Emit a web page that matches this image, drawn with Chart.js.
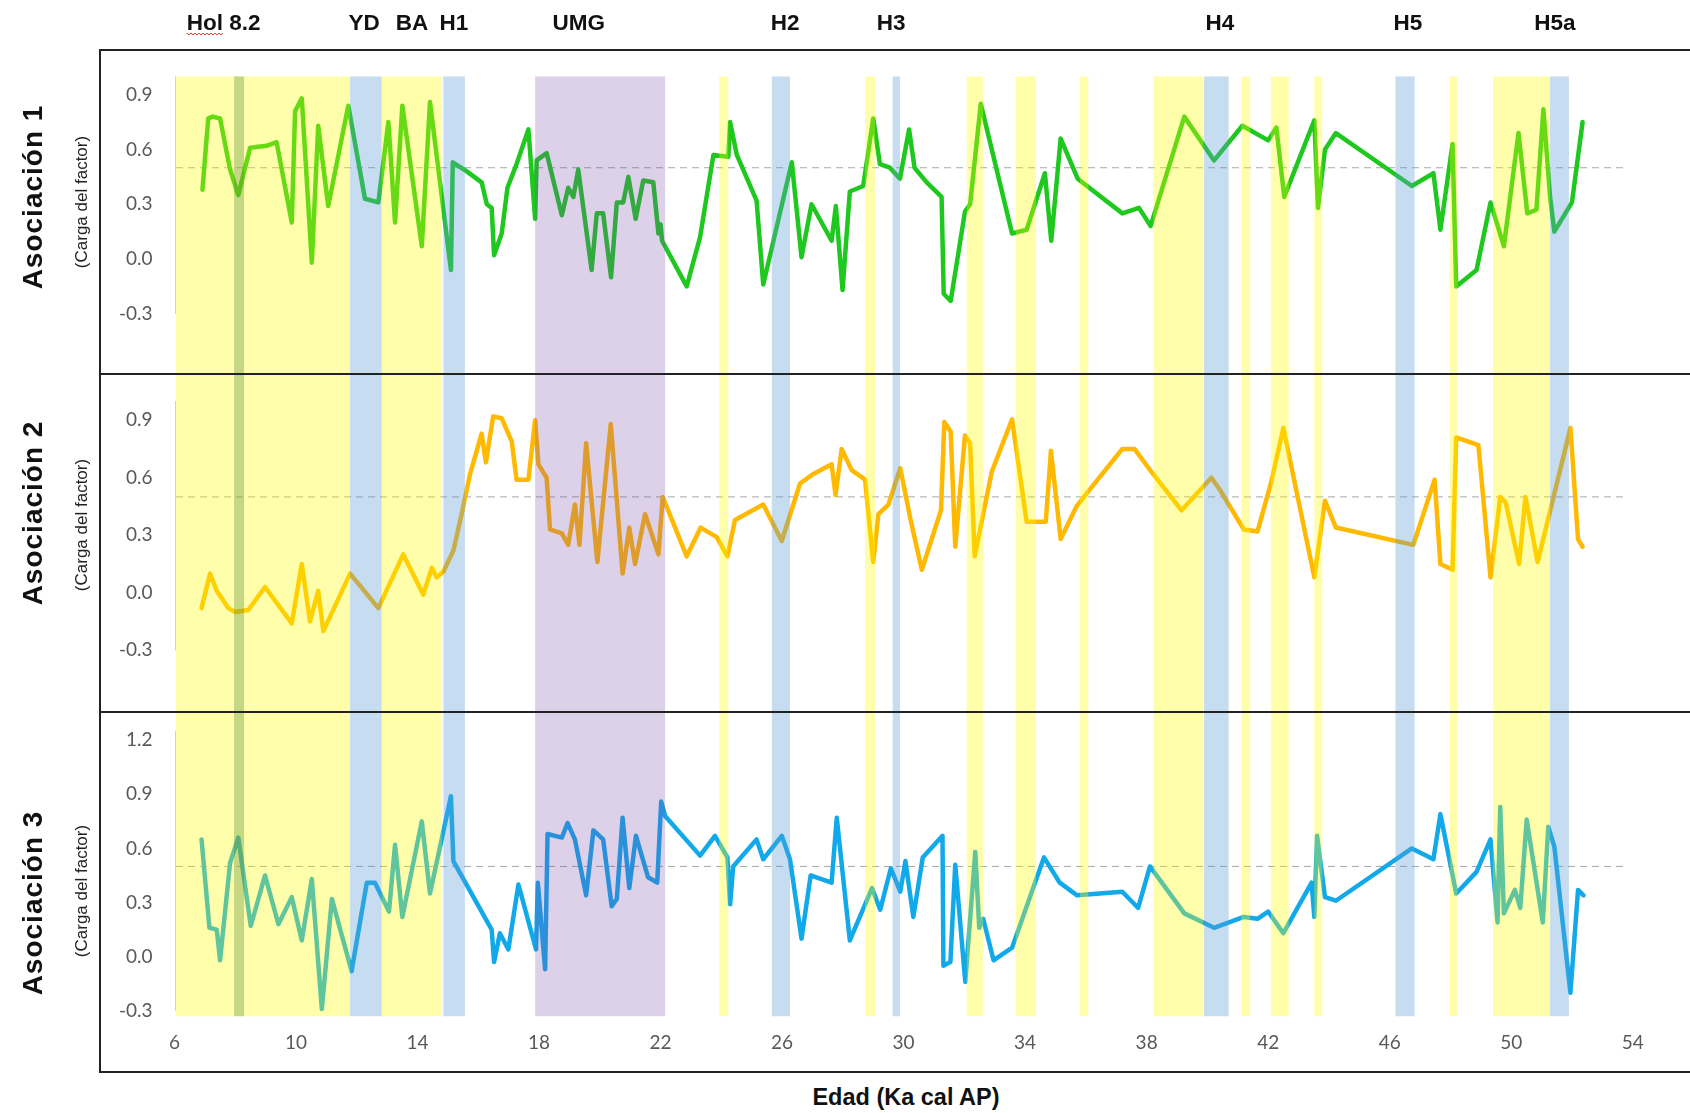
<!DOCTYPE html>
<html lang="es">
<head>
<meta charset="utf-8">
<title>Asociaciones - carga del factor</title>
<script src="https://cdn.jsdelivr.net/npm/chart.js@4.4.1/dist/chart.umd.min.js"></script>
<style>
    html, body { margin: 0; padding: 0; background: #fff; }
    body { position: relative; width: 1690px; height: 1113px; overflow: hidden; font-family: "Liberation Sans", Arial, sans-serif; }
    canvas { position: absolute; left: 0; }
    #chartA1 { top: 0; }
    #chartA2 { top: 374px; }
    #chartA3 { top: 712px; }
    .hline, .vline { position: absolute; background: #222; pointer-events: none; }
    .hline { left: 99px; width: 1600px; height: 2px; }
    .vline { left: 99px; top: 49px; width: 2px; height: 1024px; }
    .rot { position: absolute; white-space: nowrap; transform: translate(-50%, -50%) rotate(-90deg); color: #111; }
    .panel-title { font-weight: bold; font-size: 28px; letter-spacing: 1px; }
    .panel-sub { font-size: 17px; color: #222; }
    #xTitle { position: absolute; left: 906px; top: 1097px; transform: translate(-50%, -50%); font-weight: bold; font-size: 23.5px; color: #111; white-space: nowrap; }
</style>
</head>
<body>
<canvas id="chartA1" width="1690" height="374"></canvas>
<canvas id="chartA2" width="1690" height="338"></canvas>
<canvas id="chartA3" width="1690" height="360"></canvas>

<div class="vline"></div>
<div class="hline" style="top:49px"></div>
<div class="hline" style="top:373px"></div>
<div class="hline" style="top:711px"></div>
<div class="hline" style="top:1071px"></div>

<div class="rot panel-title" style="left:33px; top:197px">Asociación 1</div>
<div class="rot panel-sub" style="left:82px; top:202px">(Carga del factor)</div>
<div class="rot panel-title" style="left:33px; top:513px">Asociación 2</div>
<div class="rot panel-sub" style="left:82px; top:525px">(Carga del factor)</div>
<div class="rot panel-title" style="left:33px; top:903px">Asociación 3</div>
<div class="rot panel-sub" style="left:82px; top:891px">(Carga del factor)</div>
<div id="xTitle">Edad (Ka cal AP)</div>

<script>
// --- Data (age in ka cal BP, factor loading) ---
const ageA1 = [6.92, 7.11, 7.26, 7.50, 7.83, 8.10, 8.49, 9.03, 9.36, 9.86, 9.97, 10.19, 10.52, 10.73, 11.06, 11.72, 12.27, 12.71, 13.04, 13.26,
    13.50, 14.14, 14.41, 15.10, 15.16, 15.62, 16.11, 16.28, 16.44, 16.52, 16.77, 16.96, 17.26, 17.65, 17.87, 17.92, 18.25, 18.75, 18.96, 19.13,
    19.29, 19.73, 19.90, 20.11, 20.37, 20.56, 20.77, 20.94, 21.18, 21.43, 21.76, 21.93, 22.00, 22.05, 22.86, 23.30, 23.74, 24.23, 24.29, 24.51,
    25.16, 25.38, 26.32, 26.64, 26.97, 27.63, 27.77, 27.99, 28.23, 28.67, 29.00, 29.22, 29.55, 29.88, 30.18, 30.36, 30.76, 31.25, 31.32, 31.55,
    32.02, 32.19, 32.54, 33.57, 34.05, 34.65, 34.86, 35.17, 35.73, 37.20, 37.75, 38.13, 39.24, 40.22, 41.15, 42.00, 42.27, 42.53, 43.52, 43.64,
    43.87, 44.23, 46.73, 47.44, 47.67, 48.07, 48.19, 48.86, 49.32, 49.76, 50.24, 50.53, 50.83, 51.06, 51.28, 51.42, 52.00, 52.35];
const loadA1 = [0.38, 0.77, 0.78, 0.77, 0.49, 0.35, 0.61, 0.62, 0.64, 0.20, 0.81, 0.88, -0.02, 0.73, 0.29, 0.84, 0.33, 0.31, 0.75, 0.20,
    0.84, 0.07, 0.86, -0.06, 0.53, 0.48, 0.42, 0.30, 0.28, 0.02, 0.14, 0.39, 0.52, 0.71, 0.22, 0.54, 0.58, 0.24, 0.39, 0.34,
    0.49, -0.06, 0.25, 0.25, -0.10, 0.31, 0.31, 0.45, 0.22, 0.43, 0.42, 0.14, 0.19, 0.10, -0.15, 0.12, 0.57, 0.56, 0.75, 0.57,
    0.32, -0.14, 0.53, 0.01, 0.30, 0.10, 0.29, -0.17, 0.37, 0.40, 0.77, 0.52, 0.50, 0.44, 0.71, 0.50, 0.42, 0.34, -0.19, -0.23,
    0.26, 0.30, 0.85, 0.14, 0.16, 0.47, 0.10, 0.66, 0.44, 0.25, 0.28, 0.18, 0.78, 0.54, 0.73, 0.65, 0.72, 0.34, 0.76, 0.28,
    0.60, 0.69, 0.40, 0.47, 0.16, 0.63, -0.15, -0.06, 0.31, 0.07, 0.69, 0.25, 0.27, 0.82, 0.34, 0.15, 0.31, 0.75];

const ageA2 = [6.89, 7.17, 7.39, 7.77, 7.99, 8.43, 8.98, 9.86, 10.19, 10.46, 10.73, 10.90, 11.78, 12.71, 13.09, 13.53, 14.19, 14.47, 14.63, 14.85,
    15.18, 15.45, 15.73, 16.11, 16.25, 16.49, 16.77, 17.10, 17.26, 17.65, 17.87, 17.98, 18.25, 18.36, 18.75, 18.96, 19.18, 19.33, 19.55, 19.92,
    20.36, 20.75, 20.97, 21.16, 21.49, 21.93, 22.07, 22.86, 23.32, 23.85, 24.20, 24.45, 25.38, 25.99, 26.59, 27.03, 27.63, 27.76, 27.96, 28.29,
    28.73, 29.00, 29.17, 29.50, 29.89, 30.23, 30.60, 31.23, 31.34, 31.55, 31.70, 32.02, 32.19, 32.34, 32.90, 33.57, 34.05, 34.68, 34.85, 35.17,
    35.69, 36.29, 37.20, 37.60, 38.16, 39.15, 40.13, 40.40, 41.20, 41.65, 42.09, 42.50, 43.52, 43.87, 44.23, 46.78, 47.48, 47.67, 48.07, 48.19,
    48.92, 49.32, 49.64, 49.82, 50.26, 50.47, 50.87, 51.95, 52.20, 52.35];
const loadA2 = [-0.08, 0.10, 0.01, -0.08, -0.10, -0.09, 0.03, -0.16, 0.15, -0.15, 0.01, -0.20, 0.10, -0.08, 0.05, 0.20, -0.01, 0.13, 0.08, 0.11,
    0.22, 0.41, 0.62, 0.83, 0.68, 0.92, 0.91, 0.79, 0.59, 0.59, 0.90, 0.67, 0.60, 0.33, 0.31, 0.25, 0.46, 0.25, 0.78, 0.16,
    0.88, 0.10, 0.34, 0.15, 0.41, 0.20, 0.50, 0.19, 0.34, 0.29, 0.19, 0.38, 0.46, 0.27, 0.57, 0.62, 0.67, 0.51, 0.75, 0.64,
    0.59, 0.16, 0.41, 0.46, 0.65, 0.38, 0.12, 0.43, 0.89, 0.84, 0.24, 0.82, 0.78, 0.19, 0.63, 0.905, 0.37, 0.37, 0.74, 0.28,
    0.45, 0.57, 0.75, 0.75, 0.63, 0.43, 0.60, 0.54, 0.33, 0.32, 0.57, 0.86, 0.08, 0.48, 0.34, 0.25, 0.59, 0.15, 0.12, 0.81,
    0.77, 0.08, 0.50, 0.47, 0.15, 0.50, 0.16, 0.86, 0.28, 0.24];

const ageA3 = [6.89, 7.15, 7.39, 7.50, 7.83, 8.10, 8.51, 8.98, 9.42, 9.86, 10.19, 10.52, 10.85, 11.18, 11.83, 12.33, 12.60, 13.06, 13.26, 13.50,
    14.14, 14.41, 15.10, 15.18, 16.44, 16.52, 16.71, 16.99, 17.32, 17.90, 17.96, 18.20, 18.28, 18.75, 18.94, 19.18, 19.55, 19.79, 20.11, 20.39,
    20.56, 20.75, 20.97, 21.19, 21.59, 21.89, 22.02, 22.15, 23.30, 23.79, 24.20, 24.29, 24.39, 25.16, 25.38, 25.99, 26.26, 26.64, 26.94, 27.63,
    27.80, 28.23, 28.96, 29.23, 29.58, 29.89, 30.06, 30.32, 30.63, 31.28, 31.31, 31.54, 31.70, 32.03, 32.36, 32.49, 32.62, 32.96, 33.57, 34.62,
    35.14, 35.71, 37.20, 37.72, 38.11, 39.24, 40.22, 41.20, 41.65, 42.00, 42.50, 43.43, 43.52, 43.61, 43.87, 44.23, 46.73, 47.44, 47.67, 48.19,
    48.86, 49.32, 49.55, 49.64, 49.76, 50.12, 50.30, 50.51, 51.04, 51.22, 51.42, 51.95, 52.20, 52.38];
const loadA3 = [0.65, 0.16, 0.15, -0.02, 0.52, 0.66, 0.17, 0.45, 0.18, 0.33, 0.09, 0.43, -0.29, 0.32, -0.08, 0.41, 0.41, 0.25, 0.62, 0.22,
    0.75, 0.35, 0.89, 0.53, 0.15, -0.03, 0.13, 0.04, 0.40, 0.04, 0.41, -0.07, 0.68, 0.66, 0.74, 0.65, 0.34, 0.70, 0.65, 0.28,
    0.32, 0.77, 0.38, 0.67, 0.44, 0.41, 0.86, 0.78, 0.56, 0.67, 0.55, 0.29, 0.50, 0.65, 0.54, 0.67, 0.54, 0.10, 0.45, 0.41,
    0.77, 0.09, 0.38, 0.26, 0.49, 0.36, 0.53, 0.22, 0.55, 0.67, -0.05, -0.03, 0.51, -0.14, 0.58, 0.16, 0.21, -0.02, 0.05, 0.55,
    0.41, 0.34, 0.36, 0.27, 0.50, 0.24, 0.16, 0.22, 0.21, 0.25, 0.13, 0.41, 0.22, 0.67, 0.33, 0.31, 0.60, 0.54, 0.79, 0.35,
    0.47, 0.65, 0.19, 0.83, 0.24, 0.37, 0.27, 0.76, 0.19, 0.72, 0.61, -0.20, 0.37, 0.34];

// threshold line drawn dashed in every panel
const refLoad = 0.5;
const refAges = [6.05, 53.8];

// axis ticks
const xTicks = [6, 10, 14, 18, 22, 26, 30, 34, 38, 42, 46, 50, 54];
const yTicksA12 = [-0.3, 0.0, 0.3, 0.6, 0.9];
const yTicksA3 = [-0.3, 0.0, 0.3, 0.6, 0.9, 1.2];

// climatic intervals (ka): warm = interstadial, cold = Heinrich / YD, lgm = UMG, event = 8.2
const bandStart = [6.05, 7.96, 11.78, 12.82, 14.85, 17.87, 23.93, 25.66, 28.73, 29.64, 32.08, 33.69, 35.81, 38.22, 39.89, 41.11, 42.09, 43.52, 46.19, 47.98, 49.40, 51.28];
const bandEnd   = [11.78, 8.29, 12.82, 14.80, 15.56, 22.15, 24.23, 26.26, 29.06, 29.88, 32.62, 34.36, 36.08, 39.86, 40.70, 41.41, 42.68, 43.78, 46.82, 48.24, 51.28, 51.90];
const bandKind  = ['warm', 'event', 'cold', 'warm', 'cold', 'lgm', 'warm', 'cold', 'warm', 'cold', 'warm', 'warm', 'warm', 'warm', 'cold', 'warm', 'warm', 'warm', 'cold', 'warm', 'warm', 'cold'];

// event labels along the top
const eventNames = ['Hol 8.2', 'YD', 'BA', 'H1', 'UMG', 'H2', 'H3', 'H4', 'H5', 'H5a'];
const eventAges = [7.62, 12.24, 13.82, 15.2, 19.31, 26.1, 29.59, 40.41, 46.6, 51.44];

document.addEventListener('DOMContentLoaded', () => {
    const bandColors = {
        warm: 'rgba(255, 255, 0, 0.33)',
        cold: 'rgba(91, 155, 213, 0.35)',
        lgm: 'rgba(120, 70, 170, 0.25)',
        event: 'rgba(80, 135, 45, 0.33)'
    };
    const tickFont = { family: 'Lato, "Liberation Sans", sans-serif', size: 19 };

    // --- shaded intervals, painted over the curves like in the original ---
    const bandsPlugin = {
        id: 'bands',
        afterDatasetsDraw(chart, args, opts) {
            const { ctx, chartArea, scales: { x, y } } = chart;
            const top = opts.top == null ? chartArea.top : y.getPixelForValue(opts.top);
            const bottom = opts.bottom == null ? chartArea.bottom : y.getPixelForValue(opts.bottom);
            ctx.save();
            ctx.beginPath();
            ctx.rect(chartArea.left, chartArea.top, chartArea.width, chartArea.height);
            ctx.clip();
            bandStart.forEach((start, i) => {
                const x0 = x.getPixelForValue(start);
                const x1 = x.getPixelForValue(bandEnd[i]);
                ctx.fillStyle = bandColors[bandKind[i]];
                ctx.fillRect(x0, top, x1 - x0, bottom - top);
            });
            ctx.restore();
        }
    };

    // --- faint vertical axis line at the left of each panel ---
    const axisLinePlugin = {
        id: 'axisLine',
        beforeDatasetsDraw(chart, args, opts) {
            const { ctx, scales: { x, y } } = chart;
            const px = Math.round(x.getPixelForValue(x.min)) + 0.5;
            ctx.save();
            ctx.strokeStyle = '#d0d0d0';
            ctx.lineWidth = 1;
            ctx.beginPath();
            ctx.moveTo(px, y.getPixelForValue(opts.from));
            ctx.lineTo(px, y.getPixelForValue(opts.to));
            ctx.stroke();
            ctx.restore();
        }
    };

    // --- event names above the first panel ---
    const eventLabelPlugin = {
        id: 'eventLabels',
        afterDraw(chart) {
            const { ctx, scales: { x } } = chart;
            ctx.save();
            ctx.font = 'bold 22.5px "Liberation Sans", Arial, sans-serif';
            ctx.fillStyle = '#111';
            ctx.textAlign = 'center';
            ctx.textBaseline = 'alphabetic';
            eventNames.forEach((name, i) => {
                const cx = x.getPixelForValue(eventAges[i]);
                ctx.fillText(name, cx, 30);
                if (name.startsWith('Hol')) {
                    // red spell-check squiggle under "Hol"
                    const left = cx - ctx.measureText(name).width / 2;
                    const w = ctx.measureText('Hol').width;
                    ctx.strokeStyle = '#e02424';
                    ctx.lineWidth = 1;
                    ctx.beginPath();
                    for (let k = 0; k <= w; k += 2) {
                        const yy = (k / 2) % 2 === 0 ? 33 : 35;
                        if (k === 0) ctx.moveTo(left + k, yy); else ctx.lineTo(left + k, yy);
                    }
                    ctx.stroke();
                }
            });
            ctx.restore();
        }
    };

    function makePanel(canvasId, ages, loads, color, yRange, yTicks, cfg) {
        const canvas = document.getElementById(canvasId);
        const points = ages.map((a, i) => ({ x: a, y: loads[i] }));
        const refPoints = refAges.map(a => ({ x: a, y: refLoad }));

        return new Chart(canvas.getContext('2d'), {
            type: 'line',
            data: {
                datasets: [{
                    data: points,
                    borderColor: color,
                    borderWidth: 4.5,
                    borderJoinStyle: 'round',
                    borderCapStyle: 'round',
                    pointRadius: 0,
                    tension: 0,
                    order: 0
                }, {
                    data: refPoints,
                    borderColor: '#a6a6a6',
                    borderWidth: 1,
                    borderDash: [7, 5],
                    pointRadius: 0,
                    order: 1
                }]
            },
            options: {
                responsive: false,
                animation: false,
                events: [],
                layout: { padding: { top: cfg.padTop || 0, left: 0, right: 0, bottom: 0 } },
                plugins: {
                    legend: { display: false },
                    tooltip: { enabled: false },
                    bands: { top: cfg.bandTop, bottom: cfg.bandBottom },
                    axisLine: { from: -0.3, to: cfg.axisTop }
                },
                scales: {
                    x: {
                        type: 'linear',
                        display: cfg.showX,
                        min: 6,
                        max: 55.886,
                        bounds: 'data',
                        grid: { display: false, drawTicks: false },
                        border: { display: false },
                        afterBuildTicks: s => { s.ticks = xTicks.map(v => ({ value: v })); },
                        afterFit: s => {
                            s.height = cfg.showX ? 52 : 0;
                            s.paddingLeft = 0;
                            s.paddingRight = 0;
                        },
                        ticks: {
                            autoSkip: false,
                            maxRotation: 0,
                            padding: 11,
                            color: '#595959',
                            font: tickFont,
                            callback: v => String(v)
                        }
                    },
                    y: {
                        type: 'linear',
                        min: yRange[0],
                        max: yRange[1],
                        bounds: 'data',
                        grid: { display: false, drawTicks: false },
                        border: { display: false },
                        afterBuildTicks: s => { s.ticks = yTicks.map(v => ({ value: v })); },
                        afterFit: s => {
                            s.width = 174.5;
                            s.paddingTop = 0;
                            s.paddingBottom = 0;
                        },
                        ticks: {
                            padding: 22,
                            color: '#595959',
                            font: tickFont,
                            callback: v => v.toFixed(1)
                        }
                    }
                }
            },
            plugins: [bandsPlugin, axisLinePlugin].concat(cfg.extra || [])
        });
    }

    makePanel('chartA1', ageA1, loadA1, '#1ec81e', [-0.630, 1.145], yTicksA12,
        { padTop: 50, showX: false, bandTop: 1.0, bandBottom: null, axisTop: 1.0, extra: [eventLabelPlugin] });
    makePanel('chartA2', ageA2, loadA2, '#ffb900', [-0.622, 1.141], yTicksA12,
        { showX: false, bandTop: null, bandBottom: null, axisTop: 1.0 });
    makePanel('chartA3', ageA3, loadA3, '#12a9ea', [-0.351, 1.356], yTicksA3,
        { showX: true, bandTop: null, bandBottom: -0.33, axisTop: 1.25 });
});
</script>
</body>
</html>
